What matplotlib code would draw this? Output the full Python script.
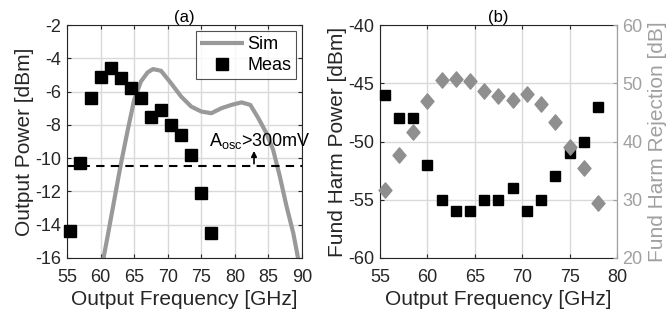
import matplotlib
matplotlib.use("Agg")
import matplotlib.pyplot as plt
from matplotlib.path import Path

plt.rcParams['font.family'] = ['Liberation Sans', 'DejaVu Sans']
plt.rcParams['axes.unicode_minus'] = False
plt.rcParams['mathtext.fontset'] = 'custom'
plt.rcParams['mathtext.rm'] = 'Liberation Sans'

# ---- Panel (a) data ----
meas_freq_a = [55.5, 57.0, 58.5, 60.0, 61.5, 63.0, 64.5, 66.0, 67.5, 69.0, 70.5, 72.0, 73.5, 75.0, 76.5]
meas_pow_a = [-14.4, -10.3, -6.4, -5.1, -4.6, -5.2, -5.8, -6.4, -7.5, -7.1, -8.0, -8.6, -9.8, -12.1, -14.5]

sim_freq = [60.3, 61.0, 62.0, 63.0, 64.0, 65.0, 66.0, 67.0, 67.8, 69.0, 70.5, 72.0, 73.5,
            75.0, 76.5, 78.0, 79.5, 81.0, 82.3, 83.5, 84.7, 85.7, 86.7, 87.7, 88.7, 89.5]
sim_pow = [-16.3, -14.8, -12.6, -10.4, -8.4, -6.5, -5.4, -4.85, -4.65, -4.75, -5.5, -6.3, -6.9,
           -7.2, -7.3, -7.0, -6.8, -6.65, -6.8, -7.6, -8.5, -9.5, -11.1, -12.9, -14.5, -16.2]

threshold = -10.5

# ---- Panel (b) data ----
freq_b = [55.5, 57.0, 58.5, 60.0, 61.5, 63.0, 64.5, 66.0, 67.5, 69.0, 70.5, 72.0, 73.5, 75.0, 76.5, 78.0]
fund_pow = [-46, -48, -48, -52, -55, -56, -56, -55, -55, -54, -56, -55, -53, -51, -50, -47]
fund_rej = [31.6, 37.6, 41.7, 47.0, 50.5, 50.8, 50.4, 48.7, 47.8, 47.1, 48.2, 46.5, 43.3, 39.0, 35.5, 29.5]

TXT = '#262626'
GRID = '#d9d9d9'
GRAY_LINE = '#999999'
GRAY_MK = '#8f8f8f'
GRAY_AX = '#a0a0a0'

fig = plt.figure(figsize=(6.69, 3.2), dpi=100)
axa = fig.add_axes([67/669, 62/320, 235/669, 233/320])
axb = fig.add_axes([380/669, 62/320, 237/669, 233/320])

TICK_FS = 13
LAB_FS = 15
TITLE_FS = 12

# Panel (a)
axa.set_axisbelow(True)
axa.grid(True, color=GRID, linewidth=1)
axa.plot(sim_freq, sim_pow, color=GRAY_LINE, linewidth=3, label='Sim', solid_capstyle='butt')
axa.plot(meas_freq_a, meas_pow_a, linestyle='none', marker='s', markersize=8.3,
         color='black', label='Meas', clip_on=False, zorder=4)
axa.axhline(threshold, color='black', linestyle=(0, (4, 3)), linewidth=1.5)
axa.set_xlim(55, 90)
axa.set_ylim(-16, -2)
axa.set_xticks(range(55, 91, 5))
axa.set_yticks(range(-16, -1, 2))
axa.tick_params(direction='in', top=True, right=True, labelsize=TICK_FS, colors=TXT, length=3)
axa.tick_params(axis='x', pad=8)
axa.tick_params(axis='y', pad=4)
for s in axa.spines.values():
    s.set_color(TXT)
axa.set_xlabel('Output Frequency [GHz]', fontsize=LAB_FS, color=TXT, labelpad=3)
axa.set_ylabel('Output Power [dBm]', fontsize=LAB_FS, color=TXT, labelpad=1)
axa.set_title('(a)', fontsize=TITLE_FS, color='black', pad=2)
leg = axa.legend(loc='upper right', fontsize=13, frameon=True, fancybox=False,
                 edgecolor=TXT, borderaxespad=0.35, handlelength=2.4, handletextpad=0.2,
                 borderpad=0.25, labelspacing=0.25)
leg.get_frame().set_linewidth(0.8)
axa.annotate('', xy=(82.85, -9.4), xytext=(82.85, -10.5),
             arrowprops=dict(arrowstyle='-|>', color='black', lw=1.2, mutation_scale=8))
axa.text(76.1, -9.3, r'A$_{\mathregular{osc}}$>300mV', fontsize=13, color='black',
         ha='left', va='baseline', clip_on=False)

# Panel (b)
axb.set_axisbelow(True)
axb.grid(True, color=GRID, linewidth=1)
axb.plot(freq_b, fund_pow, linestyle='none', marker='s', markersize=7.8, color='black',
         zorder=3, clip_on=False)
axb.set_xlim(55, 80)
axb.set_ylim(-60, -40)
axb.set_xticks(range(55, 81, 5))
axb.set_yticks(range(-60, -39, 5))
axb.tick_params(direction='in', top=True, labelsize=TICK_FS, colors=TXT, length=3)
axb.tick_params(axis='x', pad=8)
axb.tick_params(axis='y', pad=4)
for s in axb.spines.values():
    s.set_color(TXT)
axb.spines['right'].set_color(GRAY_AX)
axb.set_xlabel('Output Frequency [GHz]', fontsize=LAB_FS, color=TXT, labelpad=3)
axb.set_ylabel('Fund Harm Power [dBm]', fontsize=LAB_FS, color=TXT, labelpad=1)
axb.set_title('(b)', fontsize=TITLE_FS, color='black', pad=2)

axr = axb.twinx()
diamond = Path([(0, 1), (0.85, 0), (0, -1), (-0.85, 0), (0, 1)],
               [Path.MOVETO, Path.LINETO, Path.LINETO, Path.LINETO, Path.CLOSEPOLY])
axr.plot(freq_b, fund_rej, linestyle='none', marker=diamond, markersize=11,
         color=GRAY_MK, zorder=4, clip_on=False)
axr.set_ylim(20, 60)
axr.set_yticks(range(20, 61, 10))
axr.tick_params(direction='in', labelsize=TICK_FS, colors=GRAY_AX, length=3, pad=4)
for k, s in axr.spines.items():
    s.set_visible(k == 'right')
axr.spines['right'].set_color(GRAY_AX)
axr.set_ylabel('Fund Harm Rejection [dB]', fontsize=LAB_FS, color=GRAY_AX, labelpad=4)

fig.savefig('out.png', dpi=100)
